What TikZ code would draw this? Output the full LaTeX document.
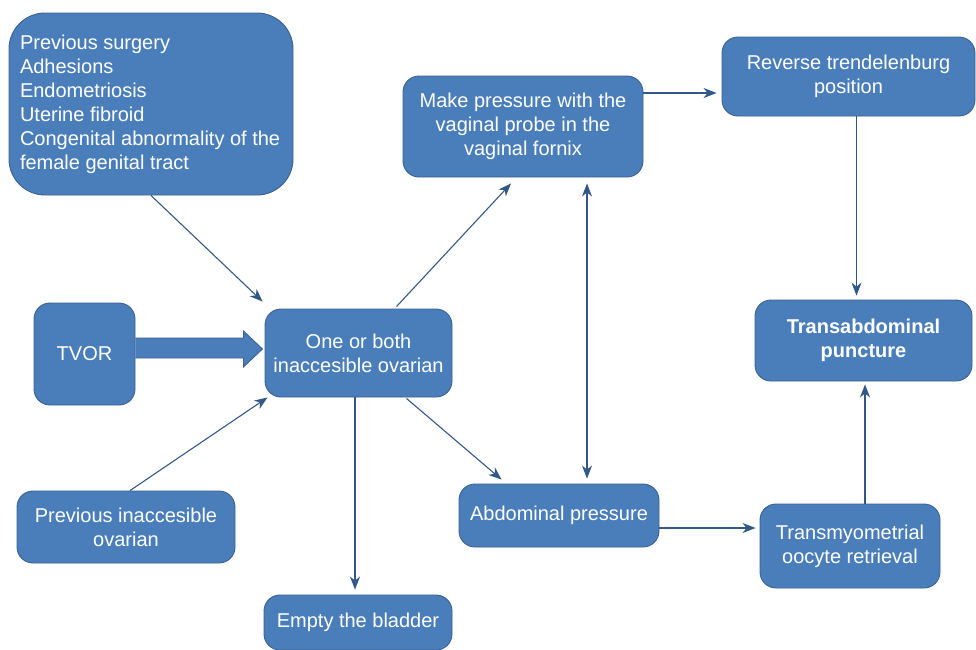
\documentclass[tikz,border=0pt]{standalone}
\usepackage{fontspec}
\setmainfont{Liberation Sans}
\usetikzlibrary{calc, arrows.meta}

\definecolor{boxfill}{RGB}{74,126,187}
\definecolor{boxline}{RGB}{58,96,142}
\definecolor{arrline}{RGB}{50,88,136}

\begin{document}
\begin{tikzpicture}[x=1pt, y=-1pt, font=\fontsize{20}{24}\selectfont,
  stepbox/.style={draw=boxline, fill=boxfill, text=white, line width=0.9pt, rounded corners=16pt, align=center, inner sep=0pt},
  arr/.style={draw=arrline, line width=1.1pt, -{Stealth[length=13pt,width=10pt,inset=4pt]}},
  fat/.style={draw=boxline, fill=boxfill, line width=0.9pt, line join=miter}]

\useasboundingbox (0,0) rectangle (976,649);

\begin{scope}
\coordinate (R) at (151,104);
\coordinate (T) at (84.5,354);
\coordinate (O) at (358.5,353);
\coordinate (P) at (126,527);
\coordinate (B) at (358,622.5);
\coordinate (M) at (523,126.5);
\coordinate (V) at (848.5,76.5);
\coordinate (X) at (863.5,340.5);
\coordinate (A) at (559,515.5);
\coordinate (Y) at (850,546);

\node[stepbox, rounded corners=36pt, minimum width=284pt, minimum height=182pt] (risk) at (R)
  {\parbox{262pt}{\raggedright Previous surgery\\ Adhesions\\ Endometriosis\\ Uterine fibroid\\ Congenital abnormality of the\\ female genital tract}};
\node[stepbox, minimum width=101pt, minimum height=102pt] (tvor) at (T) {TVOR};
\node[stepbox, minimum width=187pt, minimum height=88pt] (ovar) at (O) {One or both\\ inaccesible ovarian};
\node[stepbox, minimum width=218pt, minimum height=72pt] (prev) at (P) {Previous inaccesible\\ ovarian};
\node[stepbox, minimum width=188pt, minimum height=55pt] (bladder) at (B) {Empty the bladder};
\node[stepbox, minimum width=240pt, minimum height=101pt] (probe) at (M) {Make pressure with the\\ vaginal probe in the\\ vaginal fornix};
\node[stepbox, minimum width=253pt, minimum height=79pt] (trend) at (V) {Reverse trendelenburg\\ position};
\node[stepbox, minimum width=217pt, minimum height=81pt, font=\fontsize{20}{24}\selectfont\bfseries] (punct) at (X) {Transabdominal\\ puncture};
\node[stepbox, minimum width=200pt, minimum height=63pt] (abdo) at (A) {Abdominal pressure};
\node[stepbox, minimum width=180pt, minimum height=84pt] (myom) at (Y) {Transmyometrial\\ oocyte retrieval};

% block arrow from TVOR
\draw[fat] ($(tvor.east)+(0,-16)$) -- ++(108,0) -- ++(0,-7) -- ++(19,18) -- ++(-19,18) -- ++(0,-9) -- ($(tvor.east)+(0,4)$);

\draw[arr] (risk.south) -- ($(ovar.north west)+(-2,-7)$);
\draw[arr] ($(prev.north)+(4,0)$) -- ($(ovar.south west)+(3,0)$);
\draw[arr] ($(ovar.north)+(38,-2)$) -- ($(probe.south)+(-12,6)$);
\draw[arr] ($(ovar.south)+(48,1)$) -- ($(abdo.north west)+(43,-4)$);
\draw[arr, {Stealth[length=13pt,width=10pt,inset=4pt]}-{Stealth[length=13pt,width=10pt,inset=4pt]}] ($(probe.south)+(64,6)$) -- ($(abdo.north)+(28,-5)$);
\draw[arr] ($(ovar.south)+(-3.5,0)$) -- ($(bladder.north)+(-3,-5)$);
\draw[arr] ($(probe.east)+(0,-33.5)$) -- ($(trend.west)+(-5,16.5)$);
\draw[arr] ($(trend.south)+(8,0)$) -- ($(punct.north)+(-7,-4)$);
\draw[arr] ($(abdo.east)+(0,12.5)$) -- ($(myom.west)+(-4,-18)$);
\draw[arr] ($(myom.north)+(15,0)$) -- ($(punct.south)+(1.5,3)$);

\end{scope}

\end{tikzpicture}
\end{document}
